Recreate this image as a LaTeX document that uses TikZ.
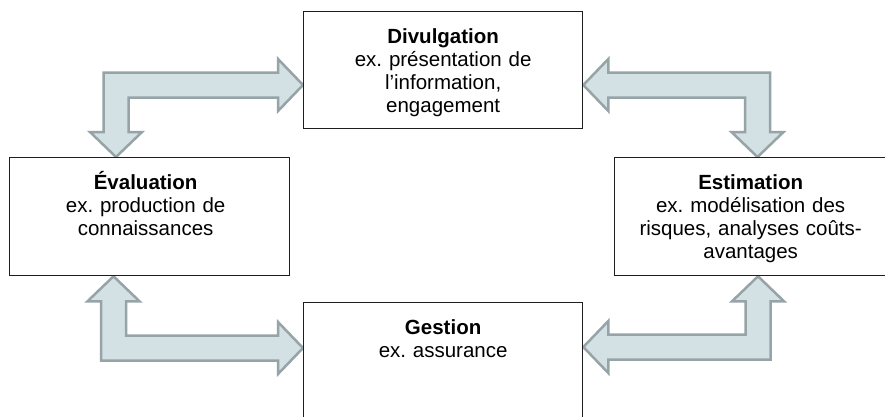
\documentclass[tikz,border=0pt]{standalone}
\usepackage{fontspec}
\setmainfont{Liberation Sans}
\usetikzlibrary{calc,backgrounds}
\frenchspacing

\definecolor{arrowfill}{HTML}{D3E1E5}
\definecolor{arrowline}{HTML}{96A4A7}
\definecolor{boxline}{HTML}{1E1E1E}

\tikzset{
  box/.style={draw=boxline, line width=1.3pt, fill=white, rectangle,
    inner sep=0pt, anchor=north west},
  lbl/.style={align=center, text width=300pt, inner sep=0pt, anchor=base,
    font=\fontsize{20.5pt}{23pt}\selectfont},
  blockarrow/.style={fill=arrowfill, draw=arrowline, line width=2.5pt,
    line join=miter},
}

% Elbow-shaped double block arrow: #1 = corner, #2 = tip of the
% horizontal arm, #3 = tip of the vertical arm.
\newcommand\elbowarrow[3]{%
  \draw[blockarrow] let \p1=(#1), \p2=(#2), \p3=(#3),
      \n1={sign(\x2-\x1)}, \n2={sign(\y3-\y1)} in
    ({\x1-(\n1)*12.5pt},{\y1-(\n2)*12.5pt})
    -- ({\x2-(\n1)*25pt},{\y1-(\n2)*12.5pt})
    -- ({\x2-(\n1)*25pt},{\y1-(\n2)*26pt})
    -- (\x2,\y1)
    -- ({\x2-(\n1)*25pt},{\y1+(\n2)*26pt})
    -- ({\x2-(\n1)*25pt},{\y1+(\n2)*12.5pt})
    -- ({\x1+(\n1)*12.5pt},{\y1+(\n2)*12.5pt})
    -- ({\x1+(\n1)*12.5pt},{\y3-(\n2)*25pt})
    -- ({\x1+(\n1)*26pt},{\y3-(\n2)*25pt})
    -- (\x1,\y3)
    -- ({\x1-(\n1)*26pt},{\y3-(\n2)*25pt})
    -- ({\x1-(\n1)*12.5pt},{\y3-(\n2)*25pt})
    -- cycle;%
}

\begin{document}
\begin{tikzpicture}[x=1pt, y=-1pt]
  \useasboundingbox (0,0) rectangle (885,416);
  \begin{scope}[on background layer]
    \fill[white] (0,0) rectangle (885,416);
  \end{scope}

  % boxes
  \node[box, minimum width=279pt, minimum height=117pt] (div)  at (303,11)  {};
  \node[box, minimum width=280pt, minimum height=118pt] (eval) at (9,157)   {};
  \node[box, minimum width=280pt, minimum height=118pt] (est)  at (614,157) {};
  \node[box, minimum width=279pt, minimum height=118pt] (gest) at (303,302) {};

  % labels
  \node[lbl] (divT)  at ([yshift=-32pt]div.north)
    {\textbf{Divulgation}\\ex. présentation de\\l’information,\\engagement};
  \node[lbl] (evalT) at ([xshift=-4pt,yshift=-32pt]eval.north)
    {\textbf{Évaluation}\\ex. production de\\connaissances};
  \node[lbl] (estT)  at ([xshift=-4pt,yshift=-32pt]est.north)
    {\textbf{Estimation}\\ex. modélisation des\\risques, analyses coûts-\\avantages};
  \node[lbl] (gestT) at ([yshift=-32pt]gest.north)
    {\textbf{Gestion}\\ex. assurance};

  % corners of the elbow arrows
  \coordinate (k1) at (116,85);
  \coordinate (k2) at (757.5,85);
  \coordinate (k3) at (113.5,348);
  \coordinate (k4) at (758,347);

  \begin{scope}[on background layer]
    \elbowarrow{k1}{k1 -| div.west}{k1 |- eval.north}
    \elbowarrow{k2}{k2 -| div.east}{k2 |- est.north}
    \elbowarrow{k3}{k3 -| gest.west}{k3 |- eval.south}
    \elbowarrow{k4}{k4 -| gest.east}{k4 |- est.south}
  \end{scope}
\end{tikzpicture}
\end{document}
